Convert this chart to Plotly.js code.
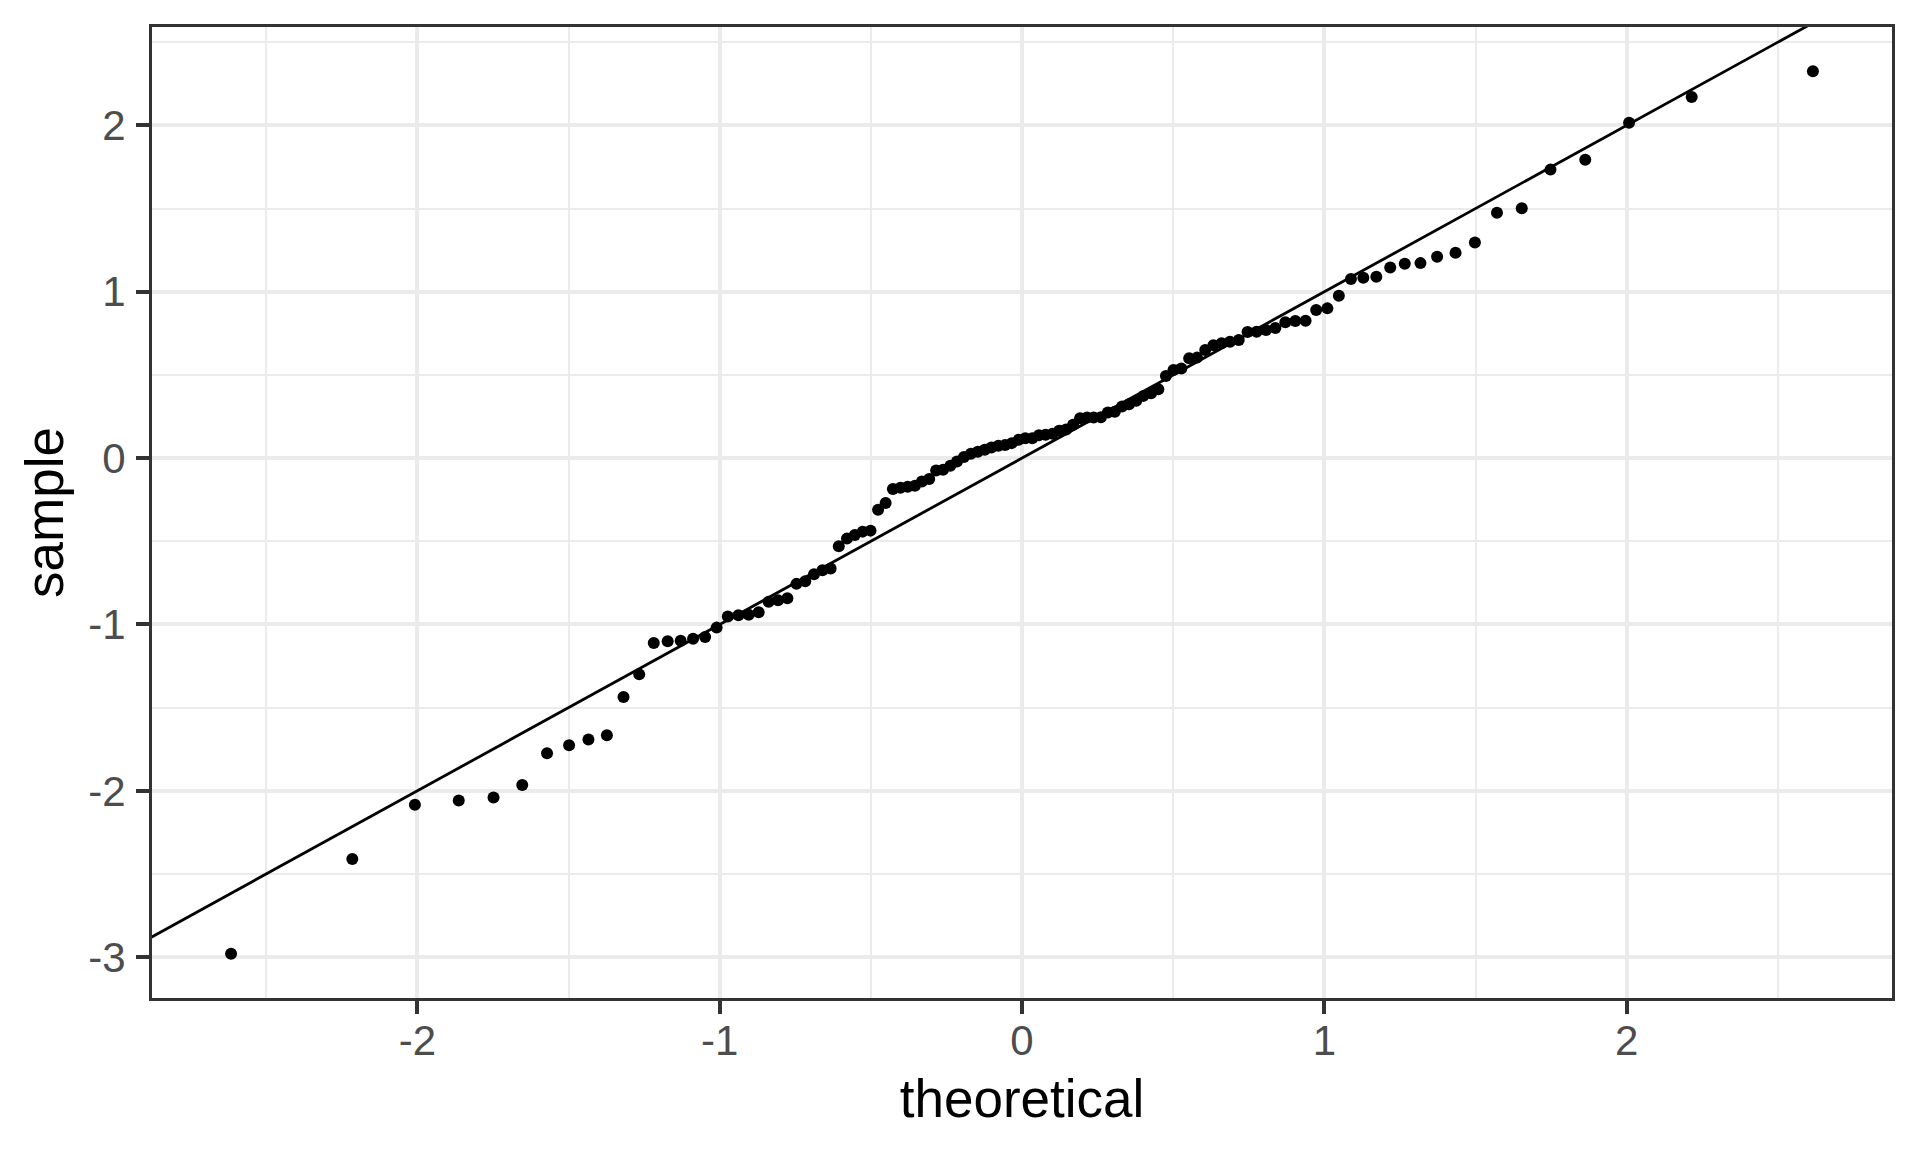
<!DOCTYPE html>
<html>
<head>
<meta charset="utf-8">
<script src="https://cdn.plot.ly/plotly-3.0.1.min.js"></script>
<style>
  html, body { margin: 0; padding: 0; background: #ffffff; }
  #chart { width: 1920px; height: 1152px; }
</style>
</head>
<body>
<div id="chart"></div>
<script>
const theoretical = [
  -2.616, -2.215, -2.008, -1.863, -1.748, -1.653, -1.571, -1.498, -1.434, -1.373,
  -1.318, -1.266, -1.218, -1.172, -1.129, -1.088, -1.048, -1.010, -0.973, -0.938,
  -0.904, -0.871, -0.838, -0.807, -0.776, -0.746, -0.717, -0.688, -0.660, -0.633,
  -0.606, -0.579, -0.553, -0.527, -0.501, -0.476, -0.451, -0.427, -0.402, -0.378,
  -0.354, -0.331, -0.307, -0.284, -0.261, -0.237, -0.215, -0.192, -0.169, -0.146,
  -0.123, -0.101, -0.078, -0.056, -0.034, -0.011,
   0.011,  0.034,  0.056,  0.078,  0.101,  0.123,  0.146,  0.169,  0.192,  0.215,
   0.237,  0.261,  0.284,  0.307,  0.331,  0.354,  0.378,  0.402,  0.427,  0.451,
   0.476,  0.501,  0.527,  0.553,  0.579,  0.606,  0.633,  0.660,  0.688,  0.717,
   0.746,  0.776,  0.807,  0.838,  0.871,  0.904,  0.938,  0.973,  1.010,  1.048,
   1.088,  1.129,  1.172,  1.218,  1.266,  1.318,  1.373,  1.434,  1.498,  1.571,
   1.653,  1.748,  1.863,  2.008,  2.215,  2.616
];

// Sample values (y), sorted
const sample = [
  -2.980, -2.410, -2.083, -2.058, -2.040, -1.965, -1.774, -1.726, -1.691, -1.666,
  -1.436, -1.300, -1.111, -1.101, -1.098, -1.086, -1.075, -1.019, -0.952, -0.944,
  -0.942, -0.926, -0.864, -0.854, -0.842, -0.756, -0.740, -0.698, -0.674, -0.664,
  -0.530, -0.484, -0.462, -0.442, -0.436, -0.310, -0.270, -0.186, -0.178, -0.172,
  -0.166, -0.140, -0.126, -0.074, -0.070, -0.046, -0.020,  0.006,  0.026,  0.038,
   0.050,  0.064,  0.074,  0.078,  0.090,  0.110,
   0.120,  0.120,  0.138,  0.140,  0.146,  0.164,  0.172,  0.200,  0.240,  0.244,
   0.244,  0.246,  0.274,  0.278,  0.310,  0.324,  0.344,  0.374,  0.390,  0.414,
   0.494,  0.530,  0.538,  0.600,  0.604,  0.650,  0.678,  0.690,  0.700,  0.710,
   0.758,  0.760,  0.770,  0.782,  0.816,  0.824,  0.826,  0.890,  0.900,  0.976,
   1.076,  1.084,  1.090,  1.146,  1.168,  1.172,  1.210,  1.234,  1.296,  1.475,
   1.502,  1.734,  1.794,  2.016,  2.170,  2.326
];

// Reference line y = intercept + slope * x
const lineIntercept = 0;
const lineSlope = 1;

// Tick labels
const xTickVals = [-2, -1, 0, 1, 2];
const xTickText = ["-2", "-1", "0", "1", "2"];
const xMinorVals = [-2.5, -1.5, -0.5, 0.5, 1.5, 2.5];
const yTickVals = [-3, -2, -1, 0, 1, 2];
const yTickText = ["-3", "-2", "-1", "0", "1", "2"];
const yMinorVals = [-2.5, -1.5, -0.5, 0.5, 1.5, 2.5];

const xTitle = "theoretical";
const yTitle = "sample";

function expand(arr) {
  const lo = Math.min(...arr), hi = Math.max(...arr);
  const pad = (hi - lo) * 0.05;
  return [lo - pad, hi + pad];
}
const xRange = expand(theoretical);
const yRange = expand(sample);

const lineX = [xRange[0] - 1, xRange[1] + 1];
const lineY = lineX.map(v => lineIntercept + lineSlope * v);

const pointsTrace = {
  type: "scatter",
  mode: "markers",
  x: theoretical,
  y: sample,
  marker: { color: "#000000", size: 12, line: { width: 0 } },
  hoverinfo: "x+y",
  showlegend: false,
  cliponaxis: true
};

const lineTrace = {
  type: "scatter",
  mode: "lines",
  x: lineX,
  y: lineY,
  line: { color: "#000000", width: 2.8 },
  hoverinfo: "skip",
  showlegend: false
};

const gridCol = "#EBEBEB";
const axisCol = "#333333";
const font = "Liberation Sans, Arial, Helvetica, sans-serif";

const layout = {
  width: 1920,
  height: 1152,
  paper_bgcolor: "#ffffff",
  plot_bgcolor: "#ffffff",
  margin: { l: 152, r: 28, t: 27, b: 154, pad: 0 },
  font: { family: font, color: "#4D4D4D" },
  showlegend: false,
  xaxis: {
    range: xRange,
    tickmode: "array",
    tickvals: xTickVals,
    ticktext: xTickText,
    ticks: "outside",
    ticklen: 13,
    tickwidth: 4,
    tickcolor: axisCol,
    tickfont: { family: font, size: 42, color: "#4D4D4D" },
    ticklabelstandoff: -9,
    showgrid: true,
    gridcolor: gridCol,
    gridwidth: 4,
    minor: { tickmode: "array", tickvals: xMinorVals, showgrid: true, gridcolor: gridCol, gridwidth: 2, ticks: "" },
    zeroline: false,
    showline: true,
    mirror: true,
    linecolor: axisCol,
    linewidth: 3,
    automargin: false,
    title: { text: xTitle, font: { family: font, size: 53, color: "#000000" }, standoff: 17 }
  },
  yaxis: {
    range: yRange,
    tickmode: "array",
    tickvals: yTickVals,
    ticktext: yTickText,
    ticks: "outside",
    ticklen: 13,
    tickwidth: 4,
    tickcolor: axisCol,
    tickfont: { family: font, size: 42, color: "#4D4D4D" },
    ticklabelstandoff: 2,
    showgrid: true,
    gridcolor: gridCol,
    gridwidth: 4,
    minor: { tickmode: "array", tickvals: yMinorVals, showgrid: true, gridcolor: gridCol, gridwidth: 2, ticks: "" },
    zeroline: false,
    showline: true,
    mirror: true,
    linecolor: axisCol,
    linewidth: 3,
    automargin: false,
    title: { text: yTitle, font: { family: font, size: 53, color: "#000000" }, standoff: 8 }
  }
};

Plotly.newPlot("chart", [pointsTrace, lineTrace], layout, { displayModeBar: false, staticPlot: true });
</script>
</body>
</html>
